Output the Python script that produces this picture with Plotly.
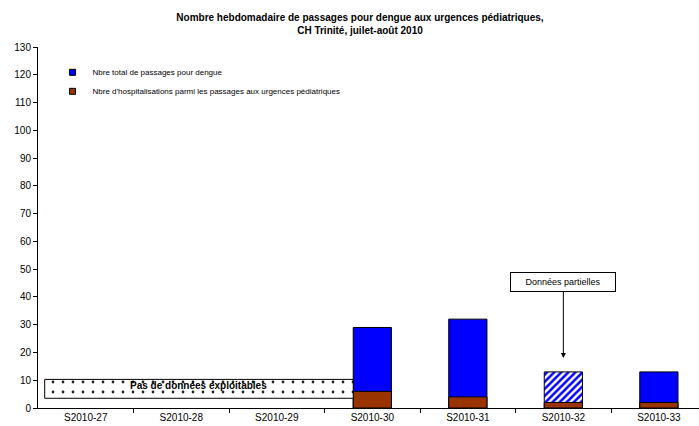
import plotly.graph_objects as go

weeks = ["S2010-27", "S2010-28", "S2010-29", "S2010-30", "S2010-31", "S2010-32", "S2010-33"]
total_passages = [None, None, None, 29, 32, 13, 13]
hospitalisations = [None, None, None, 6, 4, 2, 2]
partial = [False, False, False, False, False, True, False]

# "Pas de données exploitables" box extent (data units)
nodata_x0, nodata_x1 = -0.43, 2.80
nodata_y0, nodata_y1 = 3.5, 10.3

xs = list(range(len(weeks)))
FONT = "Liberation Sans, Arial, sans-serif"
BLUE = "#0000FF"
BROWN = "#993300"
name_total = "Nbre total de passages pour dengue"
name_hosp = "Nbre d'hospitalisations parmi les passages aux urgences pédiatriques"

fig = go.Figure()

fig.add_trace(go.Bar(
    x=xs, y=total_passages, width=0.4, showlegend=False,
    name=name_total,
    marker=dict(
        color=BLUE,
        line=dict(color="black", width=1),
        pattern=dict(shape=["/" if p else "" for p in partial],
                     fillmode="replace", bgcolor="white", fgcolor=BLUE,
                     size=5, solidity=0.5),
    ),
))
fig.add_trace(go.Bar(
    x=xs, y=hospitalisations, width=0.4, showlegend=False,
    name=name_hosp,
    marker=dict(color=BROWN, line=dict(color="black", width=1)),
))
# no-data box
fig.add_trace(go.Bar(
    x=[(nodata_x0 + nodata_x1) / 2], y=[nodata_y1 - nodata_y0], base=[nodata_y0],
    width=[nodata_x1 - nodata_x0], showlegend=False, hoverinfo="skip",
    marker=dict(line=dict(color="black", width=1),
                pattern=dict(shape=".", fillmode="replace", bgcolor="white",
                             fgcolor="#222222", size=10, solidity=0.06)),
))

# legend entries
for nm, col in [(name_total, BLUE), (name_hosp, BROWN)]:
    fig.add_trace(go.Scatter(
        x=[None], y=[None], mode="markers", name=nm,
        marker=dict(symbol="square", size=6, color=col, line=dict(color="black", width=1)),
    ))

fig.add_annotation(x=(nodata_x0 + nodata_x1) / 2, y=(nodata_y0 + nodata_y1) / 2 + 1.2,
                   text="<b>Pas de données exploitables</b>", showarrow=False,
                   font=dict(family=FONT, size=10, color="black"))

fig.add_annotation(x=5, y=18, ax=0, ay=-76, text="Données partielles",
                   showarrow=True, arrowhead=2, arrowsize=1, arrowwidth=1,
                   arrowcolor="black", bordercolor="black", borderwidth=1,
                   bgcolor="white", width=100, height=14, borderpad=2,
                   font=dict(family=FONT, size=9, color="black"))

fig.update_layout(
    width=699, height=426,
    margin=dict(l=38, r=0, t=47, b=18),
    paper_bgcolor="white", plot_bgcolor="white",
    barmode="overlay",
    title=dict(text="<b>Nombre hebdomadaire de passages pour dengue aux urgences pédiatriques,<br>CH Trinité, juilet-août 2010</b>",
               x=0.515, xanchor="center", y=0.951, yanchor="top",
               font=dict(family=FONT, size=10, color="black")),
    font=dict(family=FONT, size=10, color="black"),
    legend=dict(x=0.022, y=0.97, xanchor="left", yanchor="top",
                font=dict(family=FONT, size=8, color="black"),
                bgcolor="rgba(0,0,0,0)", tracegroupgap=0,
                itemwidth=30),
    showlegend=True,
    xaxis=dict(range=[-0.5, 6.42], tickmode="array", tickvals=xs, ticktext=weeks,
               ticks="", showgrid=False, zeroline=False, showline=True,
               linecolor="black", linewidth=1, automargin=False,
               tickfont=dict(family=FONT, size=10, color="black"),
               minor=dict(tickmode="array", tickvals=[i + 0.5 for i in xs],
                          ticks="outside", ticklen=4, tickcolor="black", showgrid=False)),
    yaxis=dict(range=[0, 130], tickmode="linear", tick0=0, dtick=10,
               ticks="outside", ticklen=4, tickcolor="black",
               showgrid=False, zeroline=False, showline=True,
               linecolor="black", linewidth=1, automargin=False,
               tickfont=dict(family=FONT, size=10, color="black")),
)

fig.write_html("out.html", config={"displayModeBar": False},
               post_script="document.body.style.margin='0';document.body.style.overflow='hidden';")
